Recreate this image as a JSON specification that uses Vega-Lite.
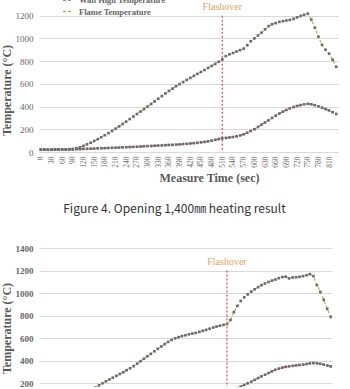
{
  "$schema": "https://vega.github.io/schema/vega-lite/v6.json",
  "background": "white",
  "padding": {"left": 0, "top": -7, "right": 0, "bottom": 0},
  "spacing": 28,
  "config": {
    "view": {"stroke": null},
    "font": "Liberation Serif",
    "axis": {
      "gridColor": "#D9D9D9",
      "gridWidth": 1,
      "domain": false,
      "ticks": false,
      "labelFont": "Liberation Serif",
      "labelColor": "#666666",
      "labelOverlap": false,
      "labelSeparation": 0,
      "titleFont": "Liberation Serif",
      "titleColor": "#595959",
      "titleFontWeight": "bold",
      "titleFontSize": 12
    },
    "legend": {
      "orient": "none",
      "title": null,
      "symbolType": "stroke",
      "symbolDash": [3, 2],
      "symbolStrokeWidth": 1.5,
      "symbolSize": 100,
      "labelFont": "Liberation Serif",
      "labelFontWeight": "bold",
      "labelFontSize": 8.5,
      "labelColor": "#666666",
      "labelOffset": 5
    }
  },
  "datasets": {
    "opening1400": [
      {"t": 0, "wall": 20, "flame": 22}, {"t": 10, "wall": 20, "flame": 22}, {"t": 20, "wall": 20, "flame": 22},
      {"t": 30, "wall": 20, "flame": 23}, {"t": 40, "wall": 21, "flame": 23}, {"t": 50, "wall": 21, "flame": 23},
      {"t": 60, "wall": 21, "flame": 24}, {"t": 70, "wall": 21, "flame": 24}, {"t": 80, "wall": 22, "flame": 25},
      {"t": 90, "wall": 22, "flame": 27}, {"t": 100, "wall": 24, "flame": 33}, {"t": 110, "wall": 25, "flame": 42},
      {"t": 120, "wall": 27, "flame": 54}, {"t": 130, "wall": 28, "flame": 68}, {"t": 140, "wall": 29, "flame": 82},
      {"t": 150, "wall": 30, "flame": 97}, {"t": 160, "wall": 32, "flame": 113}, {"t": 170, "wall": 33, "flame": 130},
      {"t": 180, "wall": 34, "flame": 148}, {"t": 190, "wall": 35, "flame": 166}, {"t": 200, "wall": 37, "flame": 185},
      {"t": 210, "wall": 38, "flame": 205}, {"t": 220, "wall": 39, "flame": 226}, {"t": 230, "wall": 41, "flame": 247},
      {"t": 240, "wall": 42, "flame": 268}, {"t": 250, "wall": 44, "flame": 290}, {"t": 260, "wall": 45, "flame": 312},
      {"t": 270, "wall": 47, "flame": 334}, {"t": 280, "wall": 48, "flame": 356}, {"t": 290, "wall": 50, "flame": 378},
      {"t": 300, "wall": 52, "flame": 400}, {"t": 310, "wall": 53, "flame": 423}, {"t": 320, "wall": 55, "flame": 446},
      {"t": 330, "wall": 57, "flame": 469}, {"t": 340, "wall": 58, "flame": 492}, {"t": 350, "wall": 60, "flame": 515},
      {"t": 360, "wall": 62, "flame": 537}, {"t": 370, "wall": 63, "flame": 558}, {"t": 380, "wall": 65, "flame": 579},
      {"t": 390, "wall": 67, "flame": 598}, {"t": 400, "wall": 70, "flame": 616}, {"t": 410, "wall": 72, "flame": 634},
      {"t": 420, "wall": 75, "flame": 652}, {"t": 430, "wall": 78, "flame": 670}, {"t": 440, "wall": 81, "flame": 688},
      {"t": 450, "wall": 85, "flame": 705}, {"t": 460, "wall": 89, "flame": 722}, {"t": 470, "wall": 94, "flame": 740},
      {"t": 480, "wall": 100, "flame": 758}, {"t": 490, "wall": 107, "flame": 776}, {"t": 500, "wall": 114, "flame": 795},
      {"t": 510, "wall": 120, "flame": 815}, {"t": 520, "wall": 124, "flame": 845}, {"t": 530, "wall": 128, "flame": 860},
      {"t": 540, "wall": 132, "flame": 872}, {"t": 550, "wall": 138, "flame": 885}, {"t": 560, "wall": 146, "flame": 897},
      {"t": 570, "wall": 156, "flame": 910}, {"t": 580, "wall": 170, "flame": 940}, {"t": 590, "wall": 185, "flame": 975},
      {"t": 600, "wall": 200, "flame": 1000}, {"t": 610, "wall": 220, "flame": 1025}, {"t": 620, "wall": 240, "flame": 1050},
      {"t": 630, "wall": 260, "flame": 1080}, {"t": 640, "wall": 280, "flame": 1108}, {"t": 650, "wall": 300, "flame": 1125},
      {"t": 660, "wall": 320, "flame": 1135}, {"t": 670, "wall": 338, "flame": 1145}, {"t": 680, "wall": 355, "flame": 1152},
      {"t": 690, "wall": 370, "flame": 1158}, {"t": 700, "wall": 385, "flame": 1163}, {"t": 710, "wall": 396, "flame": 1172},
      {"t": 720, "wall": 405, "flame": 1185}, {"t": 730, "wall": 413, "flame": 1198}, {"t": 740, "wall": 420, "flame": 1208},
      {"t": 750, "wall": 424, "flame": 1218}, {"t": 760, "wall": 420, "flame": 1165}, {"t": 770, "wall": 412, "flame": 1094},
      {"t": 780, "wall": 402, "flame": 1015}, {"t": 790, "wall": 390, "flame": 944}, {"t": 800, "wall": 378, "flame": 900},
      {"t": 810, "wall": 366, "flame": 865}, {"t": 820, "wall": 350, "flame": 812}, {"t": 830, "wall": 335, "flame": 750}
    ],
    "secondRun": [
      {"t": 0, "wall": 20, "flame": 22}, {"t": 10, "wall": 20, "flame": 22}, {"t": 20, "wall": 20, "flame": 23},
      {"t": 30, "wall": 20, "flame": 23}, {"t": 40, "wall": 21, "flame": 24}, {"t": 50, "wall": 21, "flame": 24},
      {"t": 60, "wall": 21, "flame": 25}, {"t": 70, "wall": 22, "flame": 26}, {"t": 80, "wall": 22, "flame": 27},
      {"t": 90, "wall": 22, "flame": 28}, {"t": 100, "wall": 23, "flame": 35}, {"t": 110, "wall": 24, "flame": 50},
      {"t": 120, "wall": 25, "flame": 70}, {"t": 130, "wall": 26, "flame": 95}, {"t": 140, "wall": 27, "flame": 125},
      {"t": 150, "wall": 28, "flame": 160}, {"t": 160, "wall": 29, "flame": 180}, {"t": 170, "wall": 30, "flame": 198},
      {"t": 180, "wall": 31, "flame": 215}, {"t": 190, "wall": 33, "flame": 232}, {"t": 200, "wall": 35, "flame": 248},
      {"t": 210, "wall": 36, "flame": 264}, {"t": 220, "wall": 37, "flame": 280}, {"t": 230, "wall": 38, "flame": 296},
      {"t": 240, "wall": 40, "flame": 315}, {"t": 250, "wall": 42, "flame": 332}, {"t": 260, "wall": 43, "flame": 350},
      {"t": 270, "wall": 45, "flame": 372}, {"t": 280, "wall": 46, "flame": 394}, {"t": 290, "wall": 48, "flame": 416},
      {"t": 300, "wall": 50, "flame": 438}, {"t": 310, "wall": 51, "flame": 460}, {"t": 320, "wall": 53, "flame": 482},
      {"t": 330, "wall": 54, "flame": 504}, {"t": 340, "wall": 56, "flame": 525}, {"t": 350, "wall": 58, "flame": 546},
      {"t": 360, "wall": 60, "flame": 566}, {"t": 370, "wall": 61, "flame": 584}, {"t": 380, "wall": 63, "flame": 598},
      {"t": 390, "wall": 65, "flame": 608}, {"t": 400, "wall": 67, "flame": 617}, {"t": 410, "wall": 69, "flame": 625},
      {"t": 420, "wall": 71, "flame": 633}, {"t": 430, "wall": 73, "flame": 640}, {"t": 440, "wall": 76, "flame": 646},
      {"t": 450, "wall": 78, "flame": 655}, {"t": 460, "wall": 80, "flame": 664}, {"t": 470, "wall": 83, "flame": 673},
      {"t": 480, "wall": 86, "flame": 683}, {"t": 490, "wall": 89, "flame": 693}, {"t": 500, "wall": 92, "flame": 702},
      {"t": 510, "wall": 96, "flame": 710}, {"t": 520, "wall": 100, "flame": 717}, {"t": 530, "wall": 108, "flame": 724},
      {"t": 540, "wall": 125, "flame": 760}, {"t": 550, "wall": 140, "flame": 830}, {"t": 560, "wall": 155, "flame": 885},
      {"t": 570, "wall": 168, "flame": 930}, {"t": 580, "wall": 183, "flame": 962}, {"t": 590, "wall": 198, "flame": 988},
      {"t": 600, "wall": 212, "flame": 1012}, {"t": 610, "wall": 228, "flame": 1033}, {"t": 620, "wall": 244, "flame": 1052},
      {"t": 630, "wall": 260, "flame": 1070}, {"t": 640, "wall": 274, "flame": 1085}, {"t": 650, "wall": 289, "flame": 1098},
      {"t": 660, "wall": 304, "flame": 1110}, {"t": 670, "wall": 318, "flame": 1120}, {"t": 680, "wall": 328, "flame": 1132},
      {"t": 690, "wall": 337, "flame": 1142}, {"t": 700, "wall": 344, "flame": 1145}, {"t": 710, "wall": 349, "flame": 1130},
      {"t": 720, "wall": 353, "flame": 1138}, {"t": 730, "wall": 357, "flame": 1140}, {"t": 740, "wall": 361, "flame": 1144},
      {"t": 750, "wall": 364, "flame": 1150}, {"t": 760, "wall": 369, "flame": 1158}, {"t": 770, "wall": 375, "flame": 1168},
      {"t": 780, "wall": 378, "flame": 1150}, {"t": 790, "wall": 376, "flame": 1070}, {"t": 800, "wall": 371, "flame": 1010},
      {"t": 810, "wall": 364, "flame": 940}, {"t": 820, "wall": 356, "flame": 860}, {"t": 830, "wall": 348, "flame": 787}
    ]
  },
  "vconcat": [
    {
      "width": 299,
      "height": 159,
      "title": {
        "text": "Figure 4. Opening 1,400㎜ heating result",
        "orient": "bottom",
        "font": "Noto Sans CJK KR",
        "fontSize": 12,
        "fontWeight": "normal",
        "color": "#333333",
        "offset": 21,
        "dx": -14
      },
      "layer": [
        {
          "data": {"name": "opening1400"},
          "transform": [{"fold": ["wall", "flame"], "as": ["series", "temp"]}],
          "mark": {"type": "line", "strokeDash": [3, 2], "strokeWidth": 1.2},
          "encoding": {
            "x": {
              "field": "t", "type": "quantitative",
              "scale": {"domain": [-5, 835], "nice": false, "zero": false},
              "axis": {
                "title": "Measure Time (sec)",
                "grid": false,
                "values": [0, 30, 60, 90, 120, 150, 180, 210, 240, 270, 300, 330, 360, 390, 420, 450, 480, 510, 540, 570, 600, 630, 660, 690, 720, 750, 780, 810],
                "tickCount": 40,
                "format": "d",
                "labelFont": "Liberation Serif",
                "labelAngle": -90,
                "labelFontSize": 7.5,
                "labelPadding": 4,
                "labelFlush": false,
                "labelOverlap": false,
                "labelSeparation": 0,
                "titlePadding": 5,
                "titleX": 170
              }
            },
            "y": {
              "field": "temp", "type": "quantitative",
              "scale": {"domain": [0, 1400], "nice": false},
              "axis": {
                "title": "Temperature (°C)",
                "values": [0, 200, 400, 600, 800, 1000, 1200],
                "tickCount": 10,
                "format": "d",
                "labelFont": "Liberation Serif",
                "labelFontSize": 9,
                "labelOverlap": false,
                "labelPadding": 6,
                "titlePadding": 2,
                "titleY": 97
              }
            },
            "color": {
              "field": "series", "type": "nominal",
              "scale": {"domain": ["wall", "flame"], "range": ["#C0504D", "#9BBB59"]},
              "legend": {
                "legendX": 23, "legendY": 1, "rowPadding": 0.5,
                "labelExpr": "datum.label == 'wall' ? 'Wall High Temperature' : 'Flame Temperature'"
              }
            }
          }
        },
        {
          "data": {"name": "opening1400"},
          "transform": [{"fold": ["wall", "flame"], "as": ["series", "temp"]}],
          "mark": {"type": "point", "shape": "square", "filled": true, "size": 7, "color": "#6B6B6B", "opacity": 1},
          "encoding": {
            "x": {"field": "t", "type": "quantitative"},
            "y": {"field": "temp", "type": "quantitative"},
            "detail": {"field": "series"}
          }
        },
        {
          "data": {"values": [{"t": 510, "top": 1200, "bottom": 0}]},
          "mark": {"type": "rule", "color": "#E04848", "strokeDash": [2, 2], "strokeWidth": 1.2},
          "encoding": {
            "x": {"field": "t", "type": "quantitative"},
            "y": {"field": "top", "type": "quantitative"},
            "y2": {"field": "bottom"}
          }
        },
        {
          "data": {"values": [{"t": 510, "temp": 1280, "label": "Flashover"}]},
          "mark": {"type": "text", "color": "#E8A25C", "font": "Liberation Serif", "fontSize": 10, "align": "center", "baseline": "middle"},
          "encoding": {
            "x": {"field": "t", "type": "quantitative"},
            "y": {"field": "temp", "type": "quantitative"},
            "text": {"field": "label"}
          }
        }
      ]
    },
    {
      "width": 293,
      "height": 139,
      "layer": [
        {
          "data": {"name": "secondRun"},
          "transform": [{"fold": ["wall", "flame"], "as": ["series", "temp"]}],
          "mark": {"type": "line", "strokeDash": [3, 2], "strokeWidth": 1.2, "clip": true},
          "encoding": {
            "x": {
              "field": "t", "type": "quantitative",
              "scale": {"domain": [-13.6, 833.8], "nice": false, "zero": false},
              "axis": null
            },
            "y": {
              "field": "temp", "type": "quantitative",
              "scale": {"domain": [165, 1400], "nice": false, "zero": false},
              "axis": {
                "title": "Temperature (°C)",
                "values": [200, 400, 600, 800, 1000, 1200, 1400],
                "tickCount": 10,
                "format": "d",
                "labelFont": "Liberation Serif",
                "labelFontSize": 9,
                "labelFontWeight": "bold",
                "labelOverlap": false,
                "labelPadding": 6,
                "titlePadding": 2,
                "titleY": 80
              }
            },
            "color": {
              "field": "series", "type": "nominal",
              "scale": {"domain": ["wall", "flame"], "range": ["#C0504D", "#9BBB59"]},
              "legend": {
                "legendX": 13, "legendY": 10, "rowPadding": 7,
                "labelExpr": "datum.label == 'wall' ? 'Wall High Temperature' : 'Flame Temperature'"
              }
            }
          }
        },
        {
          "data": {"name": "secondRun"},
          "transform": [{"fold": ["wall", "flame"], "as": ["series", "temp"]}],
          "mark": {"type": "point", "shape": "square", "filled": true, "size": 7, "color": "#6B6B6B", "opacity": 1, "clip": true},
          "encoding": {
            "x": {"field": "t", "type": "quantitative"},
            "y": {"field": "temp", "type": "quantitative"},
            "detail": {"field": "series"}
          }
        },
        {
          "data": {"values": [{"t": 530, "top": 1200, "bottom": 0}]},
          "mark": {"type": "rule", "color": "#E04848", "strokeDash": [2, 2], "strokeWidth": 1.2, "clip": true},
          "encoding": {
            "x": {"field": "t", "type": "quantitative"},
            "y": {"field": "top", "type": "quantitative"},
            "y2": {"field": "bottom"}
          }
        },
        {
          "data": {"values": [{"t": 530, "temp": 1275, "label": "Flashover"}]},
          "mark": {"type": "text", "color": "#E8A25C", "font": "Liberation Serif", "fontSize": 10, "align": "center", "baseline": "middle"},
          "encoding": {
            "x": {"field": "t", "type": "quantitative"},
            "y": {"field": "temp", "type": "quantitative"},
            "text": {"field": "label"}
          }
        }
      ]
    }
  ]
}
